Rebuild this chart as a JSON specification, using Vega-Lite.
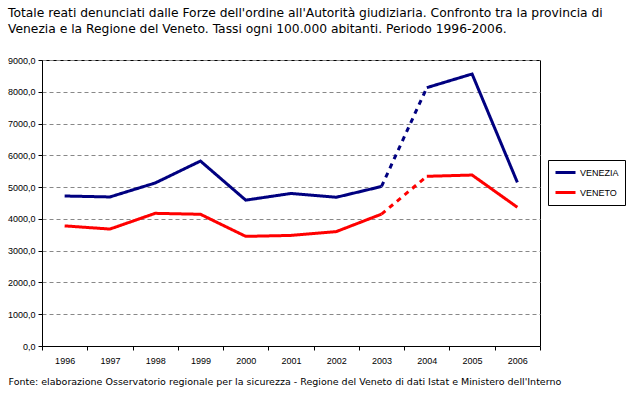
{
  "$schema": "https://vega.github.io/schema/vega-lite/v6.json",
  "width": 498,
  "height": 286,
  "autosize": {"type": "none"},
  "padding": {"left": 42, "top": 60, "right": 95, "bottom": 48},
  "background": "white",
  "title": {
    "text": ["Totale reati denunciati dalle Forze dell'ordine all'Autorità giudiziaria. Confronto tra la provincia di", "Venezia e la Regione del Veneto. Tassi ogni 100.000 abitanti. Periodo 1996-2006."],
    "anchor": "start",
    "frame": "group",
    "dx": -34,
    "offset": 21,
    "font": "DejaVu Sans",
    "fontSize": 12.3,
    "fontWeight": "normal",
    "color": "black",
    "lineHeight": 16
  },
  "data": {
    "values": [
      {"anno": "1996", "serie": "VENEZIA", "valore": 4720, "tratto": "a", "stile": "continuo"},
      {"anno": "1997", "serie": "VENEZIA", "valore": 4690, "tratto": "a", "stile": "continuo"},
      {"anno": "1998", "serie": "VENEZIA", "valore": 5130, "tratto": "a", "stile": "continuo"},
      {"anno": "1999", "serie": "VENEZIA", "valore": 5820, "tratto": "a", "stile": "continuo"},
      {"anno": "2000", "serie": "VENEZIA", "valore": 4590, "tratto": "a", "stile": "continuo"},
      {"anno": "2001", "serie": "VENEZIA", "valore": 4800, "tratto": "a", "stile": "continuo"},
      {"anno": "2002", "serie": "VENEZIA", "valore": 4680, "tratto": "a", "stile": "continuo"},
      {"anno": "2003", "serie": "VENEZIA", "valore": 5020, "tratto": "a", "stile": "continuo"},
      {"anno": "2003", "serie": "VENEZIA", "valore": 5020, "tratto": "b", "stile": "tratteggiato"},
      {"anno": "2004", "serie": "VENEZIA", "valore": 8130, "tratto": "b", "stile": "tratteggiato"},
      {"anno": "2004", "serie": "VENEZIA", "valore": 8130, "tratto": "c", "stile": "continuo"},
      {"anno": "2005", "serie": "VENEZIA", "valore": 8560, "tratto": "c", "stile": "continuo"},
      {"anno": "2006", "serie": "VENEZIA", "valore": 5150, "tratto": "c", "stile": "continuo"},
      {"anno": "1996", "serie": "VENETO", "valore": 3780, "tratto": "a", "stile": "continuo"},
      {"anno": "1997", "serie": "VENETO", "valore": 3680, "tratto": "a", "stile": "continuo"},
      {"anno": "1998", "serie": "VENETO", "valore": 4175, "tratto": "a", "stile": "continuo"},
      {"anno": "1999", "serie": "VENETO", "valore": 4145, "tratto": "a", "stile": "continuo"},
      {"anno": "2000", "serie": "VENETO", "valore": 3450, "tratto": "a", "stile": "continuo"},
      {"anno": "2001", "serie": "VENETO", "valore": 3480, "tratto": "a", "stile": "continuo"},
      {"anno": "2002", "serie": "VENETO", "valore": 3600, "tratto": "a", "stile": "continuo"},
      {"anno": "2003", "serie": "VENETO", "valore": 4150, "tratto": "a", "stile": "continuo"},
      {"anno": "2003", "serie": "VENETO", "valore": 4150, "tratto": "b", "stile": "tratteggiato"},
      {"anno": "2004", "serie": "VENETO", "valore": 5340, "tratto": "b", "stile": "tratteggiato"},
      {"anno": "2004", "serie": "VENETO", "valore": 5340, "tratto": "c", "stile": "continuo"},
      {"anno": "2005", "serie": "VENETO", "valore": 5380, "tratto": "c", "stile": "continuo"},
      {"anno": "2006", "serie": "VENETO", "valore": 4365, "tratto": "c", "stile": "continuo"}
    ]
  },
  "mark": {"type": "line", "strokeWidth": 3, "strokeCap": "butt", "strokeJoin": "miter"},
  "encoding": {
    "x": {
      "field": "anno",
      "type": "ordinal",
      "scale": {"type": "band", "paddingInner": 0, "paddingOuter": 0},
      "axis": {
        "title": "Fonte: elaborazione Osservatorio regionale per la sicurezza - Regione del Veneto di dati Istat e Ministero dell'Interno",
        "titleAnchor": "start",
        "titleAlign": "left",
        "titleX": -34,
        "titleY": 38,
        "titleBaseline": "alphabetic",
        "titleFont": "DejaVu Sans",
        "titleFontSize": 9.5,
        "titleFontWeight": "normal",
        "titleColor": "black",
        "labelAngle": 0,
        "labelFont": "Liberation Sans",
        "labelFontSize": 9,
        "labelColor": "black",
        "labelPadding": 6,
        "tickBand": "extent",
        "tickSize": 4,
        "tickColor": "black",
        "domainColor": "black",
        "grid": false
      }
    },
    "y": {
      "field": "valore",
      "type": "quantitative",
      "scale": {"domain": [0, 9000], "nice": false},
      "axis": {
        "title": null,
        "values": [0, 1000, 2000, 3000, 4000, 5000, 6000, 7000, 8000, 9000],
        "labelExpr": "replace(format(datum.value, '.1f'), '.', ',')",
        "labelFont": "Liberation Sans",
        "labelFontSize": 9,
        "labelColor": "black",
        "labelPadding": 3,
        "tickSize": 4,
        "tickColor": "black",
        "domainColor": "black",
        "grid": true,
        "gridColor": "#888888",
        "gridDash": [4, 3],
        "gridWidth": 1
      }
    },
    "color": {
      "field": "serie",
      "type": "nominal",
      "scale": {"domain": ["VENEZIA", "VENETO"], "range": ["#000080", "#FF0000"]},
      "legend": {
        "title": null,
        "orient": "none",
        "legendX": 506,
        "legendY": 100,
        "symbolType": "stroke",
        "symbolStrokeWidth": 3,
        "symbolSize": 400,
        "clipHeight": 13,
        "labelFont": "Liberation Sans",
        "labelFontSize": 9,
        "labelColor": "black",
        "labelOffset": 3,
        "rowPadding": 7,
        "padding": 6,
        "strokeColor": "black",
        "fillColor": "white",
        "cornerRadius": 0
      }
    },
    "detail": {"field": "tratto"},
    "strokeDash": {
      "field": "stile",
      "type": "nominal",
      "scale": {"domain": ["continuo", "tratteggiato"], "range": [[1, 0], [5, 5]]},
      "legend": null
    }
  },
  "config": {
    "view": {"stroke": "black", "strokeWidth": 1}
  }
}
